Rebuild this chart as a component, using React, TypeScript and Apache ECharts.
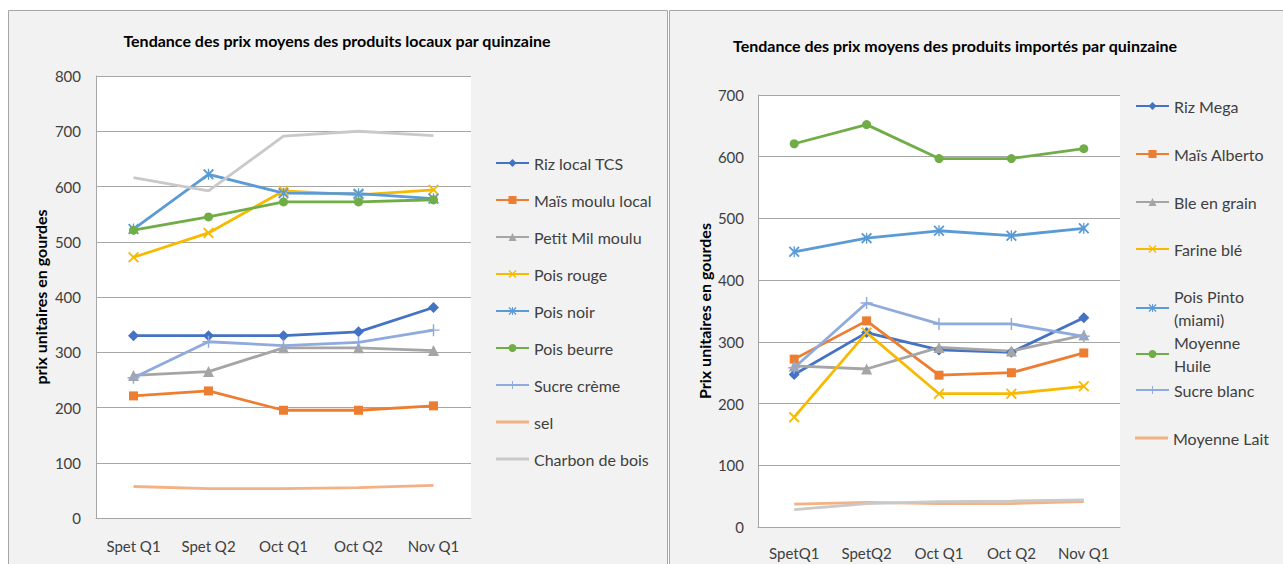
import React, { useEffect, useRef } from 'react';
import * as echarts from 'echarts';

// ---------- Data ----------
const localCategories = ['Spet Q1', 'Spet Q2', 'Oct Q1', 'Oct Q2', 'Nov Q1'];
const importCategories = ['SpetQ1', 'SpetQ2', 'Oct Q1', 'Oct Q2', 'Nov Q1'];

const localTicks = { min: 0, max: 800, interval: 100 };
const importTicks = { min: 0, max: 700, interval: 100 };

const rizLocalTCS = [330, 330, 330, 337, 381];
const maisMouluLocal = [221, 230, 195, 195, 203];
const petitMilMoulu = [258, 265, 308, 308, 303];
const poisRouge = [472, 516, 592, 585, 594];
const poisNoir = [523, 622, 588, 587, 578];
const poisBeurre = [521, 545, 572, 572, 576];
const sucreCreme = [254, 319, 312, 318, 340];
const sel = [57, 53, 53, 55, 59];
const charbonDeBois = [616, 592, 691, 700, 692];

const rizMega = [247, 315, 287, 283, 339];
const maisAlberto = [272, 334, 246, 250, 282];
const bleEnGrain = [261, 256, 291, 285, 311];
const farineBle = [178, 315, 216, 216, 228];
const poisPinto = [446, 468, 480, 472, 484];
const moyenneHuile = [621, 652, 597, 597, 613];
const sucreBlanc = [258, 363, 329, 329, 309];
const moyenneLait = [37, 40, 38, 38, 41];
const autreImport = [28, 38, 41, 42, 44];

const localTitle = 'Tendance des prix moyens des produits locaux par quinzaine';
const importTitle = 'Tendance des prix moyens des produits importés par quinzaine';
const localAxisName = 'prix unitaires en gourdes';
const importAxisName = 'Prix unitaires en gourdes';

// ---------- Styles ----------
const FONT = 'Lato, "Open Sans", sans-serif';
const TEXT = '#404040';
const GRIDC = '#a6a6a6';

const C = {
  blueDark: '#4472C4',
  orange: '#ED7D31',
  gray: '#A5A5A5',
  gold: '#F7BA00',
  blue: '#5B9BD5',
  green: '#70AD47',
  sucre: '#8FAADC',
  sel: '#F4B183',
  charbon: '#C9C9C9',
};

const X_SYM = 'path://M0,1.2L1.2,0L5,3.8L8.8,0L10,1.2L6.2,5L10,8.8L8.8,10L5,6.2L1.2,10L0,8.8L3.8,5Z';
const AST_SYM = 'path://M0,1.2L1.2,0L5,3.8L8.8,0L10,1.2L6.2,5L10,8.8L8.8,10L5,6.2L1.2,10L0,8.8L3.8,5Z M4.4,0L5.6,0L5.6,10L4.4,10Z';
const PLUS_SYM = 'path://M4.4,0L5.6,0L5.6,4.4L10,4.4L10,5.6L5.6,5.6L5.6,10L4.4,10L4.4,5.6L0,5.6L0,4.4L4.4,4.4Z';
const LINE_ICON = 'path://M0,0L33,0L33,3L0,3Z';

function mk(name: string, data: number[], color: string, symbol: string, size: number, axis: number) {
  return {
    name,
    type: 'line',
    data,
    xAxisIndex: axis,
    yAxisIndex: axis,
    symbol,
    symbolSize: size,
    showSymbol: symbol !== 'none',
    lineStyle: { color, width: 2.8 },
    itemStyle: { color },
    emphasis: { disabled: true },
  };
}

export default function App() {
  const ref = useRef<HTMLDivElement>(null);
  useEffect(() => {
    document.body.style.margin = '0';
    const chart = echarts.init(ref.current!, undefined, { renderer: 'svg' });

    const series = [
      mk('Riz local TCS', rizLocalTCS, C.blueDark, 'diamond', 11, 0),
      mk('Maïs moulu local', maisMouluLocal, C.orange, 'rect', 9, 0),
      mk('Petit Mil moulu', petitMilMoulu, C.gray, 'triangle', 11, 0),
      mk('Pois rouge', poisRouge, C.gold, X_SYM, 11, 0),
      mk('Pois noir', poisNoir, C.blue, AST_SYM, 11, 0),
      mk('Pois beurre', poisBeurre, C.green, 'circle', 9, 0),
      mk('Sucre crème', sucreCreme, C.sucre, PLUS_SYM, 12, 0),
      mk('sel', sel, C.sel, 'none', 0, 0),
      mk('Charbon de bois', charbonDeBois, C.charbon, 'none', 0, 0),
      mk('Riz Mega', rizMega, C.blueDark, 'diamond', 11, 1),
      mk('Maïs Alberto', maisAlberto, C.orange, 'rect', 9, 1),
      mk('Ble en grain', bleEnGrain, C.gray, 'triangle', 11, 1),
      mk('Farine blé', farineBle, C.gold, X_SYM, 11, 1),
      mk('Pois Pinto (miami)', poisPinto, C.blue, AST_SYM, 11, 1),
      mk('Moyenne Huile', moyenneHuile, C.green, 'circle', 9, 1),
      mk('Sucre blanc', sucreBlanc, C.sucre, PLUS_SYM, 12, 1),
      mk('Moyenne Lait', moyenneLait, C.sel, 'none', 0, 1),
      mk('Autre', autreImport, C.charbon, 'none', 0, 1),
    ];

    const legendText = { fontFamily: FONT, fontSize: 16, color: TEXT, lineHeight: 20 };
    const localLegendData = series.slice(0, 9).map((s) =>
      s.symbol === 'none' ? { name: s.name, icon: LINE_ICON } : { name: s.name }
    );

    const rightItems: [string, number, number][] = [
      ['Riz Mega', 106, 1],
      ['Maïs Alberto', 154, 1],
      ['Ble en grain', 202, 1],
      ['Farine blé', 249, 1],
      ['Pois Pinto (miami)', 297, 2],
      ['Moyenne Huile', 343, 2],
      ['Sucre blanc', 390, 1],
      ['Moyenne Lait', 438, 1],
    ];
    const rightLegends = rightItems.map(([name, cy, lines]) => ({
      orient: 'vertical',
      left: 1130,
      top: (lines === 1 ? cy - 11.5 : cy - 23.5) - 5,
      itemWidth: 33,
      itemHeight: 10,
      selectedMode: false,
      data: [name === 'Moyenne Lait' ? { name, icon: LINE_ICON } : { name }],
      formatter: (n: string) =>
        n === 'Pois Pinto (miami)' ? 'Pois Pinto\n(miami)' : n === 'Moyenne Huile' ? 'Moyenne\nHuile' : n,
      textStyle: {
        fontFamily: FONT,
        fontSize: 16,
        color: TEXT,
        lineHeight: 23,
        padding: lines === 2 ? [23, 0, 0, 0] : 0,
      },
    }));

    const axisLabel = { fontFamily: FONT, fontSize: 15, color: TEXT };
    const nameStyle = { fontFamily: FONT, fontSize: 16, fontWeight: 'bold', color: '#000' };
    const titleStyle = {
      fontFamily: FONT,
      fontSize: 16,
      fontWeight: 'bold',
      fill: '#000',
      align: 'center',
      verticalAlign: 'middle',
      textAlign: 'center',
      textVerticalAlign: 'middle',
    };

    chart.setOption({
      animation: false,
      backgroundColor: '#ffffff',
      graphic: [
        {
          type: 'rect',
          z: -100,
          shape: { x: 8.5, y: 10.5, width: 659, height: 600 },
          style: { fill: '#f2f2f2', stroke: '#a6a6a6', lineWidth: 1 },
        },
        {
          type: 'rect',
          z: -100,
          shape: { x: 669.5, y: 10.5, width: 700, height: 600 },
          style: { fill: '#f2f2f2', stroke: '#a6a6a6', lineWidth: 1 },
        },
        { type: 'text', x: 337, y: 40, style: { text: localTitle, ...titleStyle } },
        { type: 'text', x: 955, y: 45, style: { text: importTitle, ...titleStyle } },
      ],
      grid: [
        { left: 96, top: 76, width: 375, height: 442, show: true, backgroundColor: '#ffffff', borderWidth: 0 },
        { left: 758, top: 95, width: 362, height: 432, show: true, backgroundColor: '#ffffff', borderWidth: 0 },
      ],
      xAxis: [
        {
          type: 'category',
          gridIndex: 0,
          data: localCategories,
          boundaryGap: true,
          axisLine: { lineStyle: { color: GRIDC } },
          axisTick: { show: false },
          axisLabel: { ...axisLabel, margin: 20 },
        },
        {
          type: 'category',
          gridIndex: 1,
          data: importCategories,
          boundaryGap: true,
          axisLine: { lineStyle: { color: GRIDC } },
          axisTick: { show: false },
          axisLabel: { ...axisLabel, margin: 18 },
        },
      ],
      yAxis: [
        {
          type: 'value',
          gridIndex: 0,
          ...localTicks,
          axisLine: { show: true, lineStyle: { color: GRIDC } },
          axisTick: { show: false },
          splitLine: { lineStyle: { color: GRIDC } },
          axisLabel: { ...axisLabel, margin: 15 },
          name: localAxisName,
          nameLocation: 'middle',
          nameGap: 48,
          nameTextStyle: nameStyle,
        },
        {
          type: 'value',
          gridIndex: 1,
          ...importTicks,
          axisLine: { show: true, lineStyle: { color: GRIDC } },
          axisTick: { show: false },
          splitLine: { lineStyle: { color: GRIDC } },
          axisLabel: { ...axisLabel, margin: 14 },
          name: importAxisName,
          nameLocation: 'middle',
          nameGap: 46,
          nameTextStyle: nameStyle,
        },
      ],
      legend: [
        {
          orient: 'vertical',
          left: 490,
          top: 148,
          itemWidth: 33,
          itemHeight: 10,
          itemGap: 17,
          selectedMode: false,
          data: localLegendData,
          textStyle: legendText,
        },
        ...rightLegends,
      ],
      series,
    });
    return () => chart.dispose();
  }, []);
  return <div ref={ref} style={{ width: 1283, height: 564 }} />;
}
